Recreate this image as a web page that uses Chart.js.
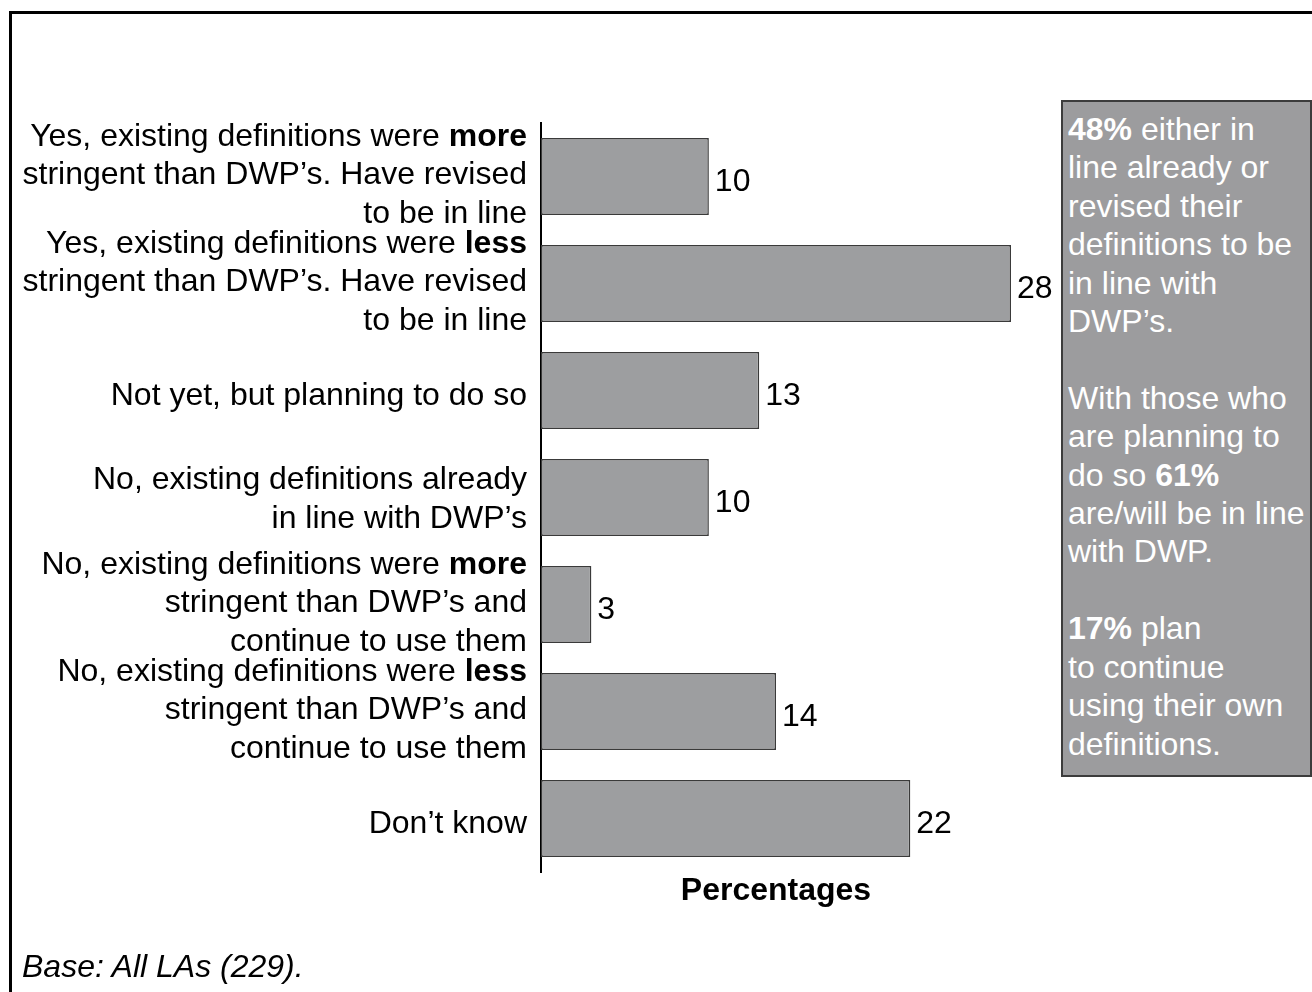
<!DOCTYPE html>
<html>
<head>
<meta charset="utf-8">
<script src="https://cdn.jsdelivr.net/npm/chart.js@4/dist/chart.umd.min.js"></script>
<style>
  html, body { margin: 0; padding: 0; background: #fff; width: 1312px; height: 992px; overflow: hidden; }
  #frame { position: absolute; left: 9px; top: 11px; width: 1400px; height: 1100px;
           border-left: 3px solid #000; border-top: 3px solid #000; box-sizing: border-box; }
  #wrap { position: absolute; left: 0; top: 0; width: 1312px; height: 992px; }
  #note { position: absolute; left: 1061px; top: 100px; width: 251px; height: 677px; box-sizing: border-box;
          background: #9c9c9e; border: 2px solid #3c3c3c; color: #fff;
          font: 32px "Liberation Sans", Arial, sans-serif; line-height: 38.4px; padding: 8px 0 0 5px; }
  #note p { margin: 0; }
  #base { position: absolute; left: 22px; top: 947px; font: italic 32px "Liberation Sans", Arial, sans-serif;
          line-height: 38.4px; color: #000; white-space: nowrap; }
</style>
</head>
<body>
<div id="frame"></div>
<div id="wrap"><canvas id="chart" width="1312" height="992"></canvas></div>
<div id="note">
  <p><b>48%</b> either in<br>line already or<br>revised their<br>definitions to be<br>in line with<br>DWP’s.</p>
  <p>&nbsp;</p>
  <p>With those who<br>are planning to<br>do so <b>61%</b><br>are/will be in line<br>with DWP.</p>
  <p>&nbsp;</p>
  <p><b>17%</b> plan<br>to continue<br>using their own<br>definitions.</p>
</div>
<div id="base">Base: All LAs (229).</div>
<script>
// Answer categories; each entry is a list of lines, **word** marks bold text
const categories = [
  ["Yes, existing definitions were **more**", "stringent than DWP’s. Have revised", "to be in line"],
  ["Yes, existing definitions were **less**", "stringent than DWP’s. Have revised", "to be in line"],
  ["Not yet, but planning to do so"],
  ["No, existing definitions already", "in line with DWP’s"],
  ["No, existing definitions were **more**", "stringent than DWP’s and", "continue to use them"],
  ["No, existing definitions were **less**", "stringent than DWP’s and", "continue to use them"],
  ["Don’t know"]
];
// Share of LAs giving each answer (%)
const values = [10, 28, 13, 10, 3, 14, 22];
const axisTitle = "Percentages";

const FONT_FAMILY = '"Liberation Sans", Arial, sans-serif';
const FONT_SIZE = 32;
const LINE_H = 38.4;

const plainLabels = categories.map(lines => lines.map(l => l.replace(/\*\*/g, '')));

// Draws the multi-line category labels (with bold words) next to the y axis
const categoryLabels = {
  id: 'categoryLabels',
  afterDraw(chart) {
    const ctx = chart.ctx;
    const yScale = chart.scales.y;
    const xRight = chart.chartArea.left - 14;
    ctx.save();
    ctx.fillStyle = '#000';
    ctx.textBaseline = 'alphabetic';
    ctx.textAlign = 'left';
    categories.forEach((lines, i) => {
      const n = lines.length;
      const mid = yScale.getPixelForValue(i) + 14 - 3.1 * (n - 1);
      lines.forEach((line, j) => {
        const y = mid + (j - (n - 1) / 2) * LINE_H;
        const segs = line.split('**').map((t, k) => ({ text: t, bold: k % 2 === 1 }));
        let width = 0;
        segs.forEach(s => {
          ctx.font = (s.bold ? 'bold ' : '') + FONT_SIZE + 'px ' + FONT_FAMILY;
          s.w = ctx.measureText(s.text).width;
          width += s.w;
        });
        let x = xRight - width;
        segs.forEach(s => {
          ctx.font = (s.bold ? 'bold ' : '') + FONT_SIZE + 'px ' + FONT_FAMILY;
          ctx.fillText(s.text, x, y);
          x += s.w;
        });
      });
    });
    ctx.restore();
  }
};

// Writes each bar's value just past its end
const valueLabels = {
  id: 'valueLabels',
  afterDatasetsDraw(chart) {
    const ctx = chart.ctx;
    const meta = chart.getDatasetMeta(0);
    ctx.save();
    ctx.font = FONT_SIZE + 'px ' + FONT_FAMILY;
    ctx.fillStyle = '#000';
    ctx.textBaseline = 'alphabetic';
    ctx.textAlign = 'left';
    meta.data.forEach((bar, i) => {
      ctx.fillText(String(values[i]), bar.x + 6, bar.y + 14.5);
    });
    ctx.restore();
  }
};

new Chart(document.getElementById('chart'), {
  type: 'bar',
  data: {
    labels: plainLabels,
    datasets: [{
      data: values,
      backgroundColor: '#9d9ea0',
      borderColor: '#3a3a3a',
      borderWidth: 1.5,
      borderSkipped: false,
      categoryPercentage: 1,
      barPercentage: 0.72
    }]
  },
  options: {
    indexAxis: 'y',
    responsive: false,
    animation: false,
    events: [],
    layout: { padding: { left: 541, right: 301, top: 123, bottom: 80 } },
    plugins: { legend: { display: false }, tooltip: { enabled: false } },
    scales: {
      x: {
        min: 0, max: 28,
        ticks: { display: false },
        grid: { display: false, drawTicks: false },
        border: { display: false },
        title: {
          display: true, text: axisTitle, color: '#000',
          font: { family: FONT_FAMILY, size: FONT_SIZE, weight: 'bold' },
          padding: { top: 0, bottom: 2 }
        },
        afterFit(scale) { scale.height = 40; }
      },
      y: {
        ticks: { display: false },
        grid: { display: false, drawTicks: false },
        border: { display: true, color: '#000', width: 2 },
        afterFit(scale) { scale.width = 0; }
      }
    }
  },
  plugins: [categoryLabels, valueLabels]
});
</script>
</body>
</html>
